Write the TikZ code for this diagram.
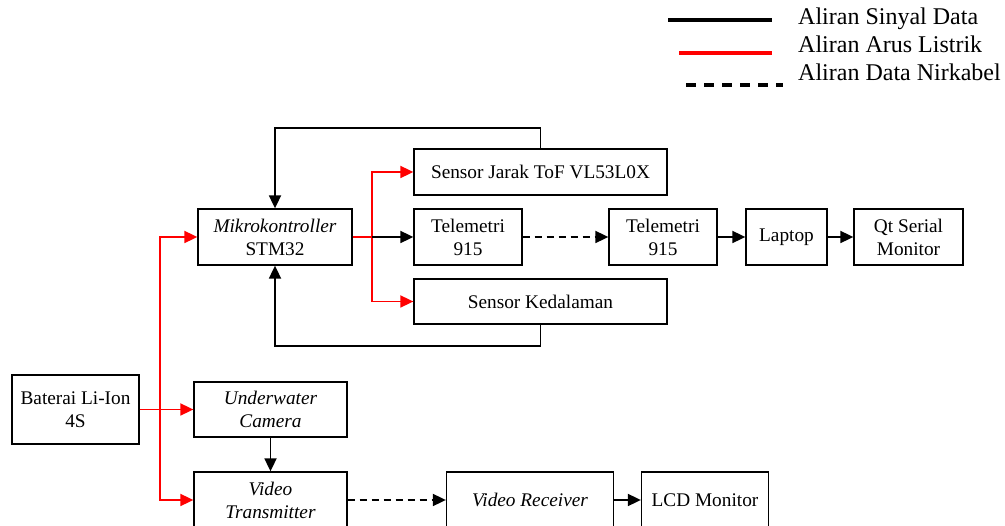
\documentclass[tikz,border=0pt]{standalone}
\usepackage{fontspec}
\setmainfont{Liberation Serif}
\usetikzlibrary{arrows.meta}
\begin{document}
\begin{tikzpicture}[x=1pt,y=-1pt,
  box/.style={draw, line width=1.3pt, rectangle, inner sep=0pt, align=center,
    font=\fontsize{19.3}{23}\selectfont},
  conn/.style={line width=1.8pt},
  arr/.style={conn, -{Triangle[length=13pt,width=12pt]}},
  pwr/.style={conn, red},
  pwrarr/.style={pwr, -{Triangle[length=13pt,width=12pt]}},
  wl/.style={arr, dash pattern=on 7pt off 5pt},
  legtext/.style={anchor=base west, inner sep=0pt, font=\fontsize{24}{28}\selectfont}]
\useasboundingbox (0,0) rectangle (1005,526);

% nodes
\node[box, minimum width=154pt, minimum height=56pt] (mikro) at (275,237) {\textit{Mikrokontroller}\\STM32};
\node[box, minimum width=253pt, minimum height=46pt] (sjarak) at (540.5,172) {Sensor Jarak ToF VL53L0X};
\node[box, minimum width=108pt, minimum height=56pt] (tel1) at (468,237) {Telemetri\\915};
\node[box, minimum width=108pt, minimum height=56pt] (tel2) at (663,237) {Telemetri\\915};
\node[box, minimum width=81pt, minimum height=56pt] (laptop) at (786.5,237) {Laptop};
\node[box, minimum width=109pt, minimum height=56pt] (qt) at (908.5,237) {Qt Serial\\Monitor};
\node[box, minimum width=253pt, minimum height=45pt] (skedal) at (540.5,301.5) {Sensor Kedalaman};
\node[box, minimum width=127pt, minimum height=69pt] (bat) at (75.5,409.5) {Baterai Li-Ion\\4S};
\node[box, minimum width=153pt, minimum height=55pt] (cam) at (270.5,409.5) {\textit{Underwater}\\\textit{Camera}};
\node[box, minimum width=153pt, minimum height=56pt] (vtx) at (270.5,500) {\textit{Video}\\\textit{Transmitter}};
\node[box, minimum width=167pt, minimum height=56pt] (vrx) at (530,500) {\textit{Video Receiver}};
\node[box, minimum width=127pt, minimum height=56pt] (lcd) at (705,500) {LCD Monitor};

% feedback loops
\draw[arr] (sjarak.north) -- ++(0,-20) -| (mikro.north);
\draw[arr] (skedal.south) -- ++(0,21) -| (mikro.south);

% power from microcontroller
\coordinate (rs) at (372,237);
\draw[pwr] (mikro.east) -- (rs);
\draw[pwrarr] (rs) |- (sjarak.west);
\draw[pwrarr] (rs) |- (skedal.west);
\draw[arr] (rs) -- (tel1.west);

% data chain
\draw[wl] (tel1.east) -- (tel2.west);
\draw[arr] (tel2.east) -- (laptop.west);
\draw[arr] (laptop.east) -- (qt.west);

% battery power
\coordinate (rb) at (160,409.5);
\draw[pwr] (bat.east) -- (rb);
\draw[pwrarr] (rb) -- (cam.west);
\draw[pwrarr] (rb) |- (mikro.west);
\draw[pwrarr] (rb) |- (vtx.west);

% video chain
\draw[arr] (cam.south) -- (vtx.north);
\draw[wl] (vtx.east) -- (vrx.west);
\draw[arr] (vrx.east) -- (lcd.west);

% legend
\coordinate (l1a) at (668,20); \coordinate (l1b) at (772,20);
\coordinate (l2a) at (679,53); \coordinate (l2b) at (772,53);
\coordinate (l3a) at (686,85); \coordinate (l3b) at (783,85);
\draw[line width=3.2pt] (l1a) -- (l1b);
\draw[line width=3.2pt, red] (l2a) -- (l2b);
\draw[line width=3.2pt, dash pattern=on 10pt off 8pt] (l3a) -- (l3b);
\node[legtext] (t1) at (798,25) {Aliran Sinyal Data};
\node[legtext] (t2) at (798,53) {Aliran Arus Listrik};
\node[legtext] (t3) at (798,81) {Aliran Data Nirkabel};
\end{tikzpicture}
\end{document}
